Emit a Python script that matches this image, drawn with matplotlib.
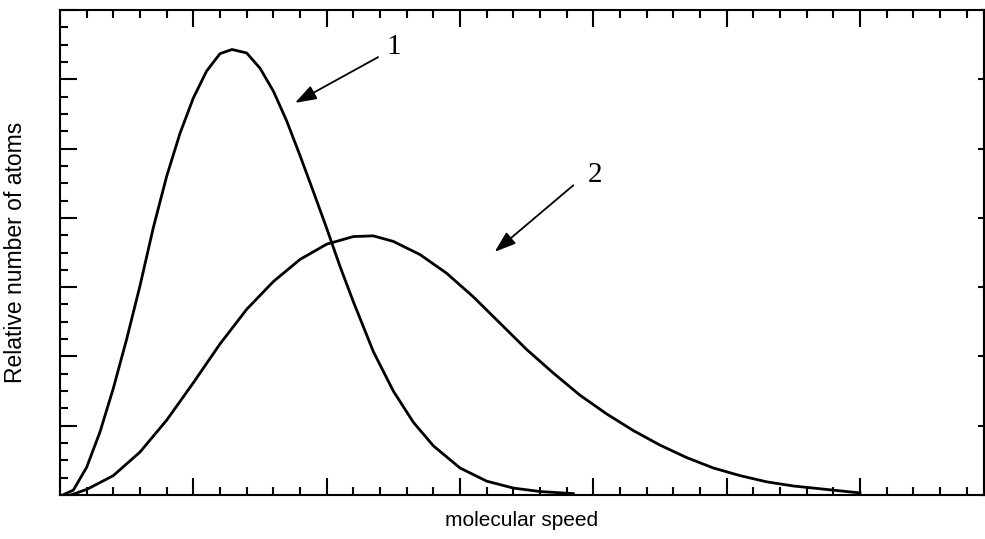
import matplotlib
matplotlib.use('Agg')
import matplotlib.pyplot as plt
from matplotlib.ticker import MultipleLocator

# ── Data (arbitrary units) ──────────────────────────────────────────────────
speed_1 = [0.02, 0.10, 0.20, 0.30, 0.40, 0.50, 0.60, 0.70, 0.80, 0.90, 1.00,
           1.10, 1.20, 1.29, 1.40, 1.50, 1.60, 1.70, 1.80, 1.90, 2.00, 2.10,
           2.20, 2.35, 2.50, 2.65, 2.80, 3.00, 3.20, 3.40, 3.60, 3.85]
count_1 = [0.00, 0.07, 0.40, 0.91, 1.54, 2.25, 3.02, 3.86, 4.60, 5.22, 5.73,
           6.12, 6.37, 6.43, 6.38, 6.16, 5.83, 5.40, 4.90, 4.38, 3.85, 3.30,
           2.79, 2.07, 1.50, 1.05, 0.71, 0.39, 0.20, 0.10, 0.05, 0.02]

speed_2 = [0.08, 0.20, 0.40, 0.60, 0.80, 1.00, 1.20, 1.40, 1.60, 1.80, 2.00,
           2.20, 2.35, 2.50, 2.70, 2.90, 3.10, 3.30, 3.50, 3.70, 3.90, 4.10,
           4.30, 4.50, 4.70, 4.90, 5.10, 5.30, 5.50, 5.70, 5.85, 6.00]
count_2 = [0.00, 0.08, 0.28, 0.62, 1.08, 1.62, 2.18, 2.68, 3.08, 3.40, 3.62,
           3.73, 3.74, 3.66, 3.47, 3.20, 2.86, 2.48, 2.10, 1.76, 1.44, 1.17,
           0.93, 0.72, 0.54, 0.39, 0.28, 0.19, 0.13, 0.09, 0.06, 0.03]

curve_labels = ['1', '2']

# annotation placement (data coords): text, arrow tail, arrow tip
LABEL_POS = [(2.50, 6.46), (4.01, 4.62)]
ARROW_TAIL = [(2.386, 6.32), (3.85, 4.47)]
ARROW_TIP = [(1.763, 5.66), (3.26, 3.51)]

XMAX = 6.93
YMAX = 7.0

plt.rcParams['font.family'] = ['Liberation Sans', 'DejaVu Sans']

fig = plt.figure(figsize=(9.85, 5.39), dpi=100)
ax = fig.add_axes([60 / 985, 44 / 539, 924 / 985, 485 / 539])

for xs, ys in [(speed_1, count_1), (speed_2, count_2)]:
    ax.plot(xs, ys, color='black', lw=2.0, solid_joinstyle='round')

ax.set_xlim(0, XMAX)
ax.set_ylim(0, YMAX)

for s in ax.spines.values():
    s.set_linewidth(1.5)

ax.xaxis.set_major_locator(MultipleLocator(1))
ax.xaxis.set_minor_locator(MultipleLocator(0.2))
ax.yaxis.set_major_locator(MultipleLocator(1))
ax.yaxis.set_minor_locator(MultipleLocator(0.25))
ax.tick_params(which='both', direction='in', top=True, bottom=True,
               left=True, right=False, labelbottom=False, labelleft=False,
               width=1.5)
ax.tick_params(which='major', length=12)
ax.tick_params(which='minor', length=6)

# right side: short major ticks only
sec = ax.secondary_yaxis('right')
sec.yaxis.set_major_locator(MultipleLocator(1))
sec.tick_params(which='major', direction='in', length=4, width=1.5,
                labelright=False)
sec.spines['right'].set_linewidth(1.5)

ax.set_xlabel('molecular speed', fontsize=15)
ax.set_ylabel('Relative number of atoms', fontsize=16.5)
ax.xaxis.set_label_coords(0.5, -0.033)
ax.yaxis.set_label_coords(-0.036, 0.5)

for lab, tpos, tail, tip in zip(curve_labels, LABEL_POS, ARROW_TAIL, ARROW_TIP):
    ax.text(*tpos, lab, fontsize=21, family=['Liberation Serif', 'DejaVu Serif'],
            ha='center', va='center')
    ax.annotate('', xy=tip, xytext=tail,
                arrowprops=dict(arrowstyle='-|>,head_length=1.3,head_width=0.45',
                                color='black', lw=1.3, shrinkA=0, shrinkB=0))

fig.savefig('out.png', dpi=100)
